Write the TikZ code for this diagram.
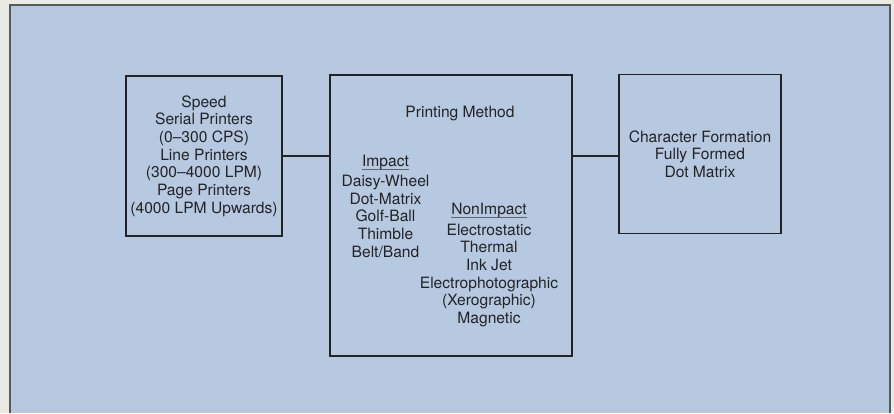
\documentclass[tikz,border=0pt]{standalone}
\usepackage{fontspec}
\setmainfont{TeX Gyre Heros}
\definecolor{paper}{RGB}{234,234,229}
\definecolor{bluebg}{RGB}{182,201,225}
\definecolor{ink}{RGB}{35,35,38}
\definecolor{ulcol}{RGB}{95,100,110}
\newcommand\myul[1]{\setbox0\hbox{#1}\rlap{\color{ulcol}\rule[-3.4pt]{\wd0}{0.9pt}}\box0}
\begin{document}
\begin{tikzpicture}[x=1pt,y=-1pt,
  boxnode/.style={draw=ink,line width=1.8pt,outer sep=0pt,inner sep=0pt,align=center,text=ink},
  txt/.style={inner sep=0pt,align=center,text=ink,font=\fontsize{15.6}{17.6}\selectfont},
  conn/.style={draw=ink,line width=1.4pt}]
\useasboundingbox (0,0) rectangle (894,413);
\fill[paper] (0,0) rectangle (894,413);
\fill[bluebg] (10,5) rectangle (890,413);
\draw[gray!70!black,line width=1.3pt] (10,413) -- (10,5) -- (890,5) -- (890,413);
% boxes
\node[boxnode,minimum width=156pt,minimum height=160pt,font=\fontsize{15.6}{17.7}\selectfont] (speed) at (204,156)
 {Speed\\Serial Printers\\(0--300 CPS)\\Line Printers\\(300--4000 LPM)\\Page Printers\\(4000 LPM Upwards)};
\node[boxnode,minimum width=242pt,minimum height=281pt] (method) at (451,215.2) {};
\node[boxnode,minimum width=162pt,minimum height=159pt,font=\fontsize{15.6}{17.4}\selectfont] (charf) at (700,154)
 {Character Formation\\Fully Formed\\Dot Matrix};
% texts in the centre box
\node[txt] (title) at (460,114) {Printing Method};
\node[txt] (impact) at (385.5,206) {\myul{Impact}\\[3pt]Daisy-Wheel\\Dot-Matrix\\Golf-Ball\\Thimble\\Belt/Band};
\node[txt] (nonimpact) at (489,265) {\myul{NonImpact}\\[3pt]Electrostatic\\Thermal\\Ink Jet\\Electrophotographic\\(Xerographic)\\Magnetic};
% connectors
\draw[conn] (speed.east) -- (speed.east -| method.west);
\draw[conn] ([yshift=-2pt]method.east |- charf.west) -- ([yshift=-2pt]charf.west);
\end{tikzpicture}
\end{document}
